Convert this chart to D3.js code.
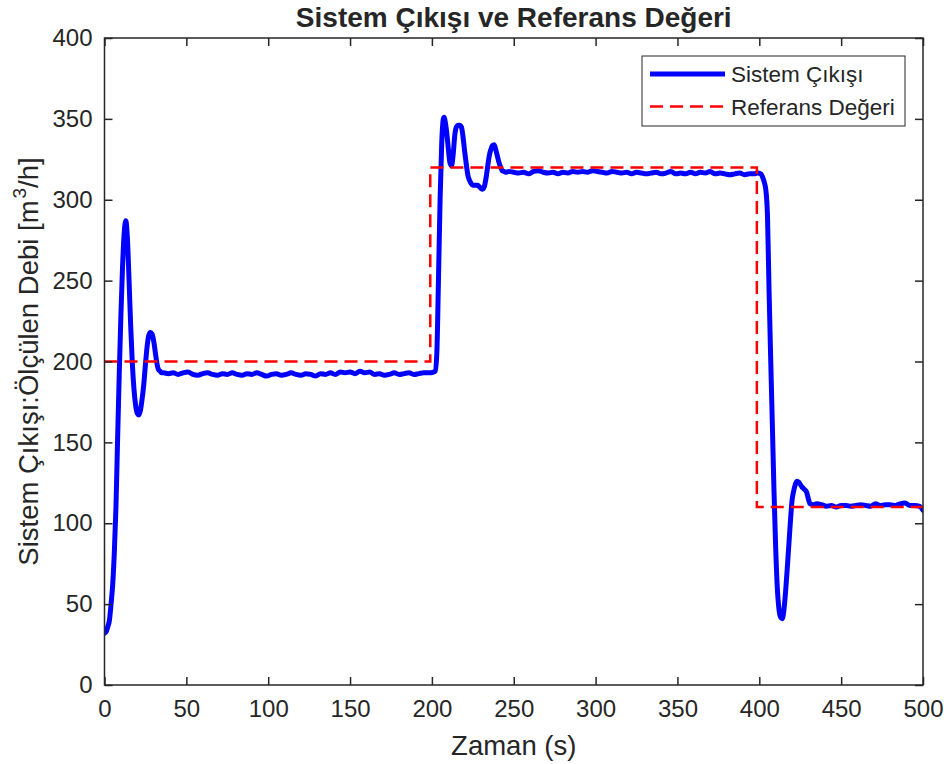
<!DOCTYPE html>
<html lang="tr">
<head>
  <meta charset="UTF-8">
  <title>Sistem Çıkışı ve Referans Değeri</title>
  <script src="https://d3js.org/d3.v7.min.js"></script>
  <style>
    body { background: #fff; margin: 0; }
    svg { display: block; }
    text { font-family: "Liberation Sans", Arial, Helvetica, sans-serif; fill: #262626; }
    .axis path, .axis line { stroke: #262626; stroke-width: 1.5; }
    .axis text { font-size: 24px; fill: #262626; }
  </style>
</head>
<body>
<svg width="944" height="764"></svg>
<script>
// step reference (setpoint) [time s, m3/h]
const referans = [[0, 200], [199, 320], [398.5, 110], [500, 110]];

const cikisBaslangic = [
  [0, 32], [1, 33], [2, 36], [3, 40], [4, 50], [5, 62], [6, 82], [7, 110], [8, 152], [9, 192],
  [10, 228], [11, 258], [12, 279], [13, 287], [14, 276], [15, 250], [16, 222], [17, 199], [18, 183],
  [19, 173], [20, 168], [21, 167], [22, 170], [23, 177], [24, 186], [25, 198], [26, 209], [27, 216],
  [28, 218], [29, 217], [30, 213], [31, 206], [32, 199], [33, 195], [34, 194], [35, 193]
];
const cikis200 = [
  [36, 193], [39, 192.5], [42, 193], [45, 192], [48, 193], [51, 193.5], [54, 192], [57, 191.5],
  [60, 192.5], [63, 193], [66, 192], [69, 191.5], [72, 192.5], [75, 192], [78, 193], [81, 192],
  [84, 191.5], [87, 192.5], [90, 192], [93, 193], [96, 192], [99, 191], [102, 192], [105, 192.5],
  [108, 191.5], [111, 192], [114, 193], [117, 192], [120, 191.5], [123, 192.5], [126, 192], [129, 191],
  [132, 192.5], [135, 192], [138, 193], [141, 192], [144, 193.5], [147, 193], [150, 193.5], [153, 192.5],
  [156, 194], [159, 193], [162, 193.5], [165, 192], [168, 192.5], [171, 191.5], [174, 192], [177, 193],
  [180, 192], [183, 192.5], [186, 193], [189, 192], [192, 192.5], [195, 193], [198, 193], [201, 193.5]
];
const cikisAdim1 = [
  [202, 194], [203, 205], [204, 250], [205, 300], [206, 335], [207, 350], [207.5, 351], [208, 349],
  [209, 342], [210, 332], [211, 323], [212, 321], [213, 328], [214, 340], [215, 345], [216, 346],
  [217, 346], [218, 345], [219, 339], [220, 330], [221, 322], [222, 315], [223, 312], [224, 310],
  [225, 309], [226, 309], [227, 309], [228, 309], [229, 308], [230, 307], [231, 306.5], [232, 308],
  [233, 313], [234, 320], [235, 327], [236, 331], [237, 333.5], [238, 334], [239, 331], [240, 327],
  [241, 323], [242, 320], [243, 318], [244, 317.5], [245, 317], [247, 317.5]
];
const cikis320 = [
  [250, 317], [253, 316.5], [256, 317], [259, 316], [262, 317.5], [265, 318], [268, 317], [271, 316.5],
  [274, 317], [277, 316], [280, 317], [283, 316.5], [286, 317.5], [289, 317], [292, 317.5], [295, 317],
  [298, 318], [301, 317.5], [304, 317], [307, 316.5], [310, 317.5], [313, 317], [316, 316.5], [319, 317],
  [322, 316], [325, 317], [328, 316.5], [331, 316], [334, 316.5], [337, 317], [340, 316], [343, 316.5],
  [346, 317.5], [349, 316], [352, 316.5], [355, 316], [358, 317], [361, 316], [364, 317], [367, 316.5],
  [370, 317.5], [373, 316], [376, 316.5], [379, 316], [382, 315.5], [385, 316], [388, 316.5], [391, 315.5],
  [394, 316], [397, 316], [399, 316.5], [401, 316]
];
const cikisAdim2 = [
  [402, 314], [403, 311], [404, 306], [405, 290], [406, 242], [407, 200], [408, 160], [409, 119],
  [410, 85], [411, 60], [412, 47], [413, 42], [414, 41], [415, 46], [416, 57], [417, 71], [418, 86],
  [419, 101], [420, 114], [421, 120], [422, 124], [423, 126], [424, 125.5], [425, 124], [426, 122.5],
  [427, 121.5], [428, 120.5], [429, 119], [430, 115], [431, 112], [433, 111.5]
];
const cikis110 = [
  [435, 112], [438, 111.5], [441, 110.5], [444, 111], [447, 110], [450, 111], [453, 111], [456, 110.5],
  [459, 111], [462, 111.5], [465, 111], [468, 110.5], [471, 112], [474, 111], [477, 111.5], [480, 111.5],
  [483, 111], [486, 112], [489, 112.5], [492, 111], [495, 111], [498, 110.5], [500, 108]
];
const sistemCikisi = [...cikisBaslangic, ...cikis200, ...cikisAdim1, ...cikis320, ...cikisAdim2, ...cikis110];

const xTicks = [0, 50, 100, 150, 200, 250, 300, 350, 400, 450, 500];
const yTicks = [0, 50, 100, 150, 200, 250, 300, 350, 400];

const svg = d3.select("svg");
const mLeft = 104.5, mRight = 923, mTop = 38, mBottom = 685;

const x = d3.scaleLinear().domain([0, 500]).range([mLeft, mRight]);
const y = d3.scaleLinear().domain([0, 400]).range([mBottom, mTop]);

svg.append("rect").attr("width", 944).attr("height", 764).attr("fill", "#fff");

svg.append("clipPath").attr("id", "plotclip")
  .append("rect").attr("x", mLeft).attr("y", mTop).attr("width", mRight - mLeft).attr("height", mBottom - mTop);

const line = d3.line().x(d => x(d[0])).y(d => y(d[1])).curve(d3.curveMonotoneX);
const stepLine = d3.line().x(d => x(d[0])).y(d => y(d[1])).curve(d3.curveStepAfter);

const plot = svg.append("g").attr("clip-path", "url(#plotclip)");

plot.append("path")
  .datum(sistemCikisi)
  .attr("d", line)
  .attr("fill", "none")
  .attr("stroke", "#0000ff")
  .attr("stroke-width", 5)
  .attr("stroke-linejoin", "round")
  .attr("stroke-linecap", "round");

plot.append("path")
  .datum(referans)
  .attr("d", stepLine)
  .attr("fill", "none")
  .attr("stroke", "#ff0000")
  .attr("stroke-width", 2.5)
  .attr("stroke-dasharray", "13,7");

// axes, inner ticks on all four sides
svg.append("g").attr("class", "axis")
  .attr("transform", `translate(0,${mBottom})`)
  .call(d3.axisBottom(x).tickValues(xTicks).tickSize(-8).tickPadding(15))
  .call(g => g.select(".domain").remove());

svg.append("g").attr("class", "axis")
  .attr("transform", `translate(0,${mTop})`)
  .call(d3.axisTop(x).tickValues(xTicks).tickSize(-8).tickFormat(""))
  .call(g => g.select(".domain").remove());

svg.append("g").attr("class", "axis")
  .attr("transform", `translate(${mLeft},0)`)
  .call(d3.axisLeft(y).tickValues(yTicks).tickSize(-8).tickPadding(12))
  .call(g => g.select(".domain").remove());

svg.append("g").attr("class", "axis")
  .attr("transform", `translate(${mRight},0)`)
  .call(d3.axisRight(y).tickValues(yTicks).tickSize(-8).tickFormat(""))
  .call(g => g.select(".domain").remove());

svg.append("rect")
  .attr("x", mLeft).attr("y", mTop)
  .attr("width", mRight - mLeft).attr("height", mBottom - mTop)
  .attr("fill", "none").attr("stroke", "#262626").attr("stroke-width", 1.5);

// title and axis labels
svg.append("text")
  .attr("x", (mLeft + mRight) / 2).attr("y", 27)
  .attr("text-anchor", "middle")
  .attr("font-size", 28).attr("font-weight", "bold")
  .attr("fill", "#000")
  .text("Sistem Çıkışı ve Referans Değeri");

svg.append("text")
  .attr("x", (mLeft + mRight) / 2).attr("y", 755)
  .attr("text-anchor", "middle")
  .attr("font-size", 27.5)
  .text("Zaman (s)");

const yl = svg.append("text")
  .attr("transform", `translate(38,${(mTop + mBottom) / 2}) rotate(-90)`)
  .attr("text-anchor", "middle")
  .attr("font-size", 27.5);
yl.append("tspan").text("Sistem Çıkışı:Ölçülen Debi [m");
yl.append("tspan").attr("font-size", 19).attr("dy", -12).attr("dx", 2).text("3");
yl.append("tspan").attr("dy", 12).text("/h]");

// legend
const lg = svg.append("g");
lg.append("rect")
  .attr("x", 642).attr("y", 56).attr("width", 263).attr("height", 70)
  .attr("fill", "#fff").attr("stroke", "#262626").attr("stroke-width", 1);
const legendItems = [
  { label: "Sistem Çıkışı", color: "#0000ff", width: 5, dash: null, y: 74 },
  { label: "Referans Değeri", color: "#ff0000", width: 2.5, dash: "13,7", y: 106.5 }
];
legendItems.forEach(d => {
  lg.append("line")
    .attr("x1", 650).attr("x2", 725).attr("y1", d.y).attr("y2", d.y)
    .attr("stroke", d.color).attr("stroke-width", d.width)
    .attr("stroke-dasharray", d.dash);
  lg.append("text")
    .attr("x", 731).attr("y", d.y + 8)
    .attr("font-size", 22.5).attr("fill", "#000")
    .text(d.label);
});
</script>
</body>
</html>
